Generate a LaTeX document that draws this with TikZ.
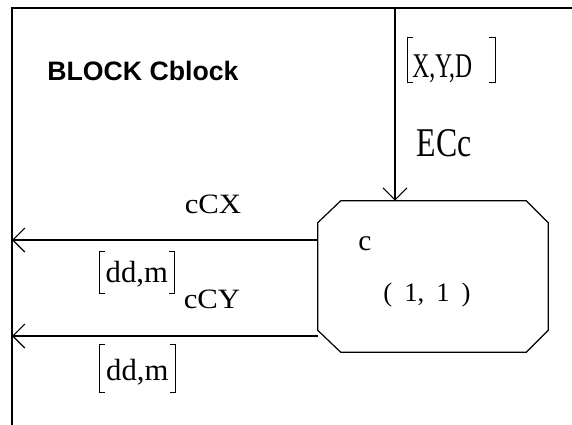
\documentclass[tikz,border=0pt]{standalone}
\usepackage{fontspec}
\setmainfont{Liberation Serif}
\setsansfont{Liberation Sans}
\usetikzlibrary{arrows.meta,calc,positioning}
\tikzset{
  wire/.style={draw=black,line width=.9pt},
  flow/.style={wire,-{Straight Barb[length=9pt,width=18pt]}},
  brkline/.style={draw=black,line width=.6pt},
  lbl/.style={inner sep=0pt,anchor=base},
  vec/.style={inner xsep=0pt,inner ysep=0pt,anchor=base west,
    font=\fontsize{23}{23}\selectfont}
}
% square brackets round a vector label
\newcommand\vecbrk[1]{%
  \draw[brkline] ($(#1.north west)+(6,0)$) -- (#1.north west) -- (#1.south west) -- ++(6,0);
  \draw[brkline] ($(#1.north east)+(-6,0)$) -- (#1.north east) -- (#1.south east) -- ++(-6,0);}

\begin{document}
\begin{tikzpicture}[x=.75pt,y=-.75pt]
  \useasboundingbox (0,0) rectangle (572,425);
  % block frame
  \coordinate (tl) at (12,8);
  \draw[wire] (572,8) -- (tl) -- (12,425);
  \node[lbl,font=\sffamily\bfseries\fontsize{20}{20}\selectfont] (title) at (143,80) {BLOCK Cblock};

  % element c
  \node[minimum width=172.5pt,minimum height=113.25pt,inner sep=0pt] (c) at (433,276.5) {};
  \draw[wire] ($(c.north west)+(23,0)$) -- ($(c.north east)+(-22,0)$)
    -- ($(c.north east)+(0,22)$) -- ($(c.south east)+(0,-22)$)
    -- ($(c.south east)+(-22,0)$) -- ($(c.south west)+(23,0)$)
    -- ($(c.south west)+(0,-22)$) -- ($(c.north west)+(0,22)$) -- cycle;
  \node[lbl,font=\fontsize{22}{22}\selectfont] (cname) at (365,250) {c};
  \node[lbl,font=\fontsize{20}{20}\selectfont] (cidx) at (427,301)
    {(\hspace{9pt}1,\hspace{9pt}1\hspace{9pt})};

  % input ECc
  \coordinate (ecin) at (395,8);
  \draw[flow] (ecin) -- (ecin |- c.north);
  \node[vec,text height=29.25pt,text depth=3.75pt,inner xsep=3.75pt,
    font=\fontsize{26}{26}\selectfont] (xyd) at (407,77)
    {\scalebox{.68}[1]{X,Y,D}\hspace{13.6pt}\null};
  \vecbrk{xyd}
  \node[lbl,font=\fontsize{30.6}{30.6}\selectfont] (ecc) at (444,156)
    {\scalebox{.78}[1]{ECc}};

  % outputs cCX, cCY
  \coordinate (cxend) at (12,240);
  \coordinate (cyend) at (12,336);
  \draw[flow] (c.west |- cxend) -- (cxend);
  \draw[flow] (c.west |- cyend) -- (cyend);
  \node[lbl,font=\fontsize{21}{21}\selectfont] (ccx) at (213,213)
    {\scalebox{1.1}[1]{cCX}};
  \node[lbl,font=\fontsize{21}{21}\selectfont] (ccy) at (212,308)
    {\scalebox{1.1}[1]{cCY}};
  \node[vec,minimum width=56.25pt,text height=22.5pt,text depth=8.25pt] (ddx) at (99,282) {dd,m};
  \vecbrk{ddx}
  \node[vec,minimum width=57pt,text height=26.25pt,text depth=9pt] (ddy) at (99,380) {dd,m};
  \vecbrk{ddy}
\end{tikzpicture}
\end{document}
